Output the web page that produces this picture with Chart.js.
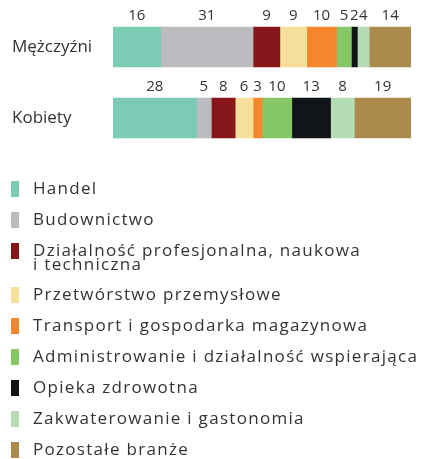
<!DOCTYPE html>
<html>
<head>
<meta charset="utf-8">
<script src="https://cdn.jsdelivr.net/npm/chart.js@4"></script>
<style>
html,body{margin:0;padding:0;background:#fff;}
canvas{display:block;}
</style>
</head>
<body>
<canvas id="c" width="425" height="459"></canvas>
<script>
const categories = ["Mężczyźni", "Kobiety"];
const seriesNames = [
  "Handel",
  "Budownictwo",
  "Działalność profesjonalna, naukowa\ni techniczna",
  "Przetwórstwo przemysłowe",
  "Transport i gospodarka magazynowa",
  "Administrowanie i działalność wspierająca",
  "Opieka zdrowotna",
  "Zakwaterowanie i gastonomia",
  "Pozostałe branże"
];
const menValues = [16, 31, 9, 9, 10, 5, 2, 4, 14];
const womenValues = [28, 5, 8, 6, 3, 10, 13, 8, 19];
const seriesColors = ["#7ccbb4", "#bbbcbf", "#87161a", "#f5df9a", "#f5862b", "#86c765", "#111517", "#b5dcb4", "#ac8a4b"];

const FONT = "'Open Sans', sans-serif";
const TEXT = "#333333";

const datasets = seriesNames.map((name, i) => ({
  label: name,
  data: [menValues[i], womenValues[i]],
  backgroundColor: seriesColors[i],
  borderWidth: 0,
  barThickness: 40
}));

const valueLabels = {
  id: 'valueLabels',
  afterDatasetsDraw(chart) {
    const ctx = chart.ctx;
    ctx.save();
    ctx.font = "15px " + FONT;
    ctx.fillStyle = TEXT;
    ctx.textAlign = 'center';
    ctx.textBaseline = 'middle';
    chart.data.datasets.forEach((ds, di) => {
      const meta = chart.getDatasetMeta(di);
      meta.data.forEach((bar, idx) => {
        const p = bar.getProps(['x', 'base', 'y', 'height'], true);
        const cx = (p.x + p.base) / 2;
        const top = p.y - p.height / 2;
        ctx.fillText(String(ds.data[idx]), cx, top - 11);
      });
    });
    ctx.restore();
  }
};

const customLegend = {
  id: 'customLegend',
  afterDraw(chart) {
    const ctx = chart.ctx;
    ctx.save();
    ctx.font = "17px " + FONT;
    try { ctx.letterSpacing = "1.3px"; } catch (e) {}
    ctx.fillStyle = TEXT;
    ctx.textAlign = 'left';
    ctx.textBaseline = 'middle';
    let y = 181;
    chart.data.datasets.forEach((ds) => {
      const lines = ds.label.split('\n');
      ctx.fillStyle = ds.backgroundColor;
      ctx.fillRect(11, y, 8, 16);
      ctx.fillStyle = TEXT;
      lines.forEach((ln, li) => {
        ctx.fillText(ln, 33, y + 8 + li * 14);
      });
      y += 31 + (lines.length - 1) * 13;
    });
    ctx.restore();
  }
};

new Chart(document.getElementById('c'), {
  type: 'bar',
  data: { labels: categories, datasets },
  options: {
    indexAxis: 'y',
    responsive: false,
    animation: false,
    devicePixelRatio: 1,
    layout: { padding: { top: 11.5, bottom: 305.5, left: 12, right: 14 } },
    plugins: { legend: { display: false }, tooltip: { enabled: false } },
    scales: {
      x: { stacked: true, min: 0, max: 100, display: false },
      y: {
        stacked: true,
        grid: { display: false, drawTicks: false },
        border: { display: false },
        ticks: { crossAlign: 'far', color: TEXT, font: { family: "'Open Sans', sans-serif", size: 17 }, padding: 0 },
        afterFit(scale) { scale.width = 101; }
      }
    }
  },
  plugins: [valueLabels, customLegend]
});
</script>
</body>
</html>
